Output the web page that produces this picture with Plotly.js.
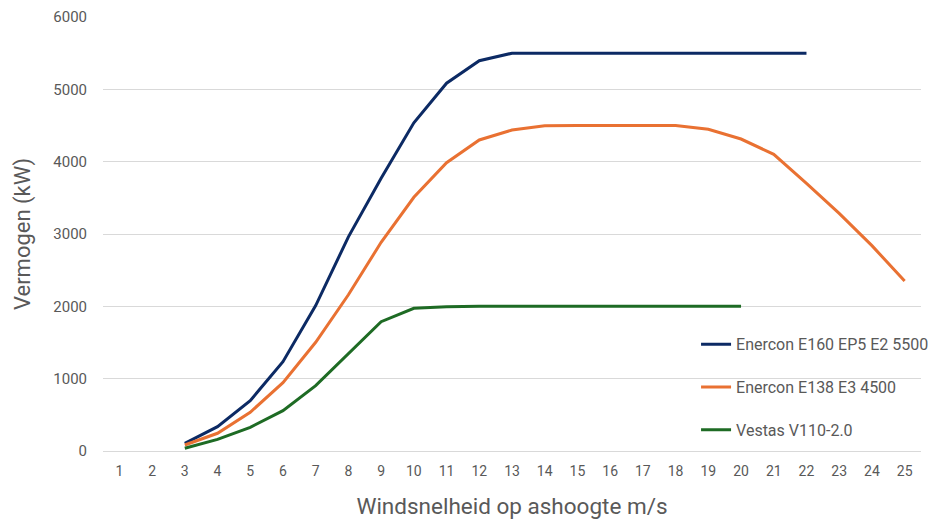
<!DOCTYPE html>
<html><head><meta charset="utf-8">
<script src="https://cdn.plot.ly/plotly-3.0.1.min.js"></script>
<style>html,body{margin:0;padding:0;background:#fff}#chart{width:935px;height:522px}</style>
</head><body><div id="chart"></div>
<script>
const windSpeeds = [1,2,3,4,5,6,7,8,9,10,11,12,13,14,15,16,17,18,19,20,21,22,23,24,25];
const e160 = [null,null,106,336,696,1235,2010,2960,3770,4537,5085,5396,5500,5500,5500,5500,5500,5500,5500,5500,5500,5500,null,null,null];
const e138 = [null,null,83,245,535,945,1503,2160,2885,3507,3986,4300,4438,4498,4500,4500,4500,4500,4447,4313,4102,3701,3286,2839,2350];
const v110 = [null,null,37,161,327,557,903,1350,1788,1972,1995,2000,2000,2000,2000,2000,2000,2000,2000,2000,null,null,null,null,null];
const seriesNames = ['Enercon E160 EP5 E2 5500','Enercon E138 E3 4500','Vestas V110-2.0'];
const seriesColors = ['#0c2a64','#e97132','#1e6b24'];
const seriesData = [e160, e138, v110];
const yTicks = [0,1000,2000,3000,4000,5000,6000];
const xTitle = 'Windsnelheid op ashoogte m/s';
const yTitle = 'Vermogen (kW)';

const traces = seriesData.map((d,i)=>({
  x: windSpeeds.map(String), y: d, type:'scatter', mode:'lines', name: seriesNames[i],
  legendgroup: 'g'+i,
  line:{color:seriesColors[i], width:3}, connectgaps:false, hoverinfo:'skip'
}));
const font = "Roboto, 'Liberation Sans', sans-serif";
const layout = {
  width:935, height:522,
  margin:{l:103, r:14, t:17, b:71, autoexpand:false},
  paper_bgcolor:'#fff', plot_bgcolor:'#fff',
  showlegend:true,
  legend:{x:0.725, y:0.285, xanchor:'left', yanchor:'top', bgcolor:'rgba(0,0,0,0)',
    font:{family:font, size:16, color:'#595959'}, tracegroupgap:19, itemwidth:30},
  xaxis:{type:'category', range:[-0.5,24.5], showgrid:false, zeroline:false,
    showline:false, ticks:'', tickfont:{family:font, size:14, color:'#595959'},
    ticklabelstandoff:10,
    title:{text:xTitle, font:{family:font, size:22.5, color:'#595959'}, standoff:20}},
  yaxis:{range:[0,6000], tickvals:yTicks, showgrid:true, gridcolor:'#d9d9d9', gridwidth:1,
    zeroline:true, zerolinecolor:'#d9d9d9', zerolinewidth:1, showline:false, ticks:'',
    tickfont:{family:font, size:15, color:'#595959'}, ticklabelstandoff:15,
    title:{text:yTitle, font:{family:font, size:22, color:'#595959'}, standoff:16}},
  font:{family:font}
};
Plotly.newPlot('chart', traces, layout, {staticPlot:true, displayModeBar:false});
</script></body></html>
